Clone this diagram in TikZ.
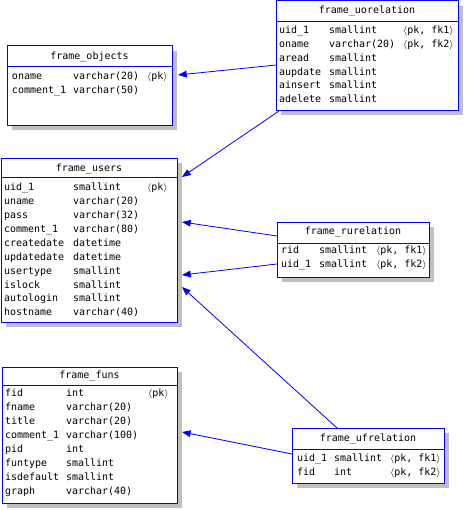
\documentclass[tikz,border=0pt]{standalone}
\usepackage{fontspec}
\newfontfamily\erfont{DejaVu Sans Mono}
\usetikzlibrary{arrows.meta}
\definecolor{erblue}{RGB}{0,0,255}
\definecolor{shadowgray}{RGB}{192,192,192}
\tikzset{
  box/.style={draw=erblue, line width=0.75pt, fill=white, inner sep=0pt, outer sep=0pt},
  cell/.style={inner sep=0pt, outer sep=0pt, font=\erfont\fontsize{7.5pt}{9pt}\selectfont, anchor=base west, text=black},
  conn/.style={draw=erblue, line width=0.6pt, -{Triangle[length=6.5pt,width=5pt]}},
}
\newcommand\erbox[8]{%
  \fill[shadowgray] (#2+5,#3+5) rectangle (#4+5,#5+5);
  \node[box, anchor=north west, minimum width={(#4-#2)*0.75pt}, minimum height={(#5-#3)*0.75pt}] (#1) at (#2,#3) {};
  \draw[erblue, line width=0.75pt] (#2,#6) -- (#4,#6);
  \node[cell, anchor=base] (#1-title) at ({(#2+#4)/2}, #8+3.7) {#7};
}
% #1 name, #2,#3,#4 column x, #5 first row y, #6 step, #7 list
\newcommand\errows[7]{%
  \foreach \a/\b/\c [count=\i from 0] in {#7} {
    \node[cell] (#1-r\i a) at (#2, #5+\i*#6+3.7) {\a};
    \node[cell] (#1-r\i b) at (#3, #5+\i*#6+3.7) {\b};
    \node[cell] (#1-r\i c) at (#4, #5+\i*#6+3.7) {\c};
  }
}
\newcommand\pk{$\langle$pk$\rangle$}
\newcommand\pkf[1]{$\langle$pk, fk#1$\rangle$}
\begin{document}
\begin{tikzpicture}[x=0.75pt, y=-0.75pt]
\useasboundingbox (0,0) rectangle (464,510);
% frame_objects
\erbox{obj}{7}{46}{172}{125}{67}{frame\_objects}{56}
\errows{obj}{12}{73}{147}{76}{14}{oname/varchar(20)/\pk, comment\_1/varchar(50)/{}}
% frame_uorelation
\erbox{uor}{276}{1}{458}{110}{22}{frame\_uorelation}{10}
\errows{uor}{279}{329}{403}{30}{13.8}{uid\_1/smallint/\pkf{1}, oname/varchar(20)/\pkf{2}, aread/smallint/{}, aupdate/smallint/{}, ainsert/smallint/{}, adelete/smallint/{}}
% frame_users
\erbox{usr}{1}{158}{177}{322}{177}{frame\_users}{168}
\errows{usr}{4}{73}{147}{187}{13.9}{uid\_1/smallint/\pk, uname/varchar(20)/{}, pass/varchar(32)/{}, comment\_1/varchar(80)/{}, createdate/datetime/{}, updatedate/datetime/{}, usertype/smallint/{}, islock/smallint/{}, autologin/smallint/{}, hostname/varchar(40)/{}}
% frame_rurelation
\erbox{rur}{277}{222}{429}{277}{243}{frame\_rurelation}{231}
\errows{rur}{281}{319}{376}{250}{14}{rid/smallint/\pkf{1}, uid\_1/smallint/\pkf{2}}
% frame_funs
\erbox{fun}{2}{367}{177}{503}{385}{frame\_funs}{375}
\errows{fun}{5}{66}{148}{393}{14}{fid/int/\pk, fname/varchar(20)/{}, title/varchar(20)/{}, comment\_1/varchar(100)/{}, pid/int/{}, funtype/smallint/{}, isdefault/smallint/{}, graph/varchar(40)/{}}
% frame_ufrelation
\erbox{ufr}{292}{428}{444}{483}{449}{frame\_ufrelation}{438}
\errows{ufr}{297}{334}{390}{458}{14}{uid\_1/smallint/\pkf{1}, fid/int/\pkf{2}}
% connector end points
\coordinate (c1s) at (276,65);  \coordinate (c1e) at (178,75);
\coordinate (c2s) at (279,111); \coordinate (c2e) at (182,177);
\coordinate (c3s) at (277,236); \coordinate (c3e) at (182,222);
\coordinate (c4s) at (277,264); \coordinate (c4e) at (182,275);
\coordinate (c5s) at (337,428); \coordinate (c5e) at (182,287);
\coordinate (c6s) at (292,454); \coordinate (c6e) at (182,432);
\draw[conn] (c1s) -- (c1e);
\draw[conn] (c2s) -- (c2e);
\draw[conn] (c3s) -- (c3e);
\draw[conn] (c4s) -- (c4e);
\draw[conn] (c5s) -- (c5e);
\draw[conn] (c6s) -- (c6e);
\end{tikzpicture}
\end{document}
